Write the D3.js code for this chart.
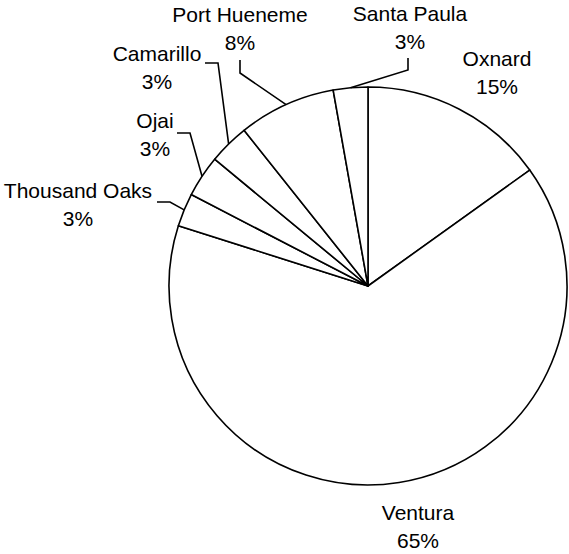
<!DOCTYPE html>
<html>
<head>
<meta charset="utf-8">
<script src="https://cdn.jsdelivr.net/npm/d3@7"></script>
<style>
  html, body { margin: 0; padding: 0; background: #fff; }
  svg { display: block; }
  text { font-family: "Liberation Sans", Arial, sans-serif; font-size: 21px; fill: #000; }
</style>
</head>
<body>
<script>
// ---- data ----
const categories = ["Oxnard", "Ventura", "Thousand Oaks", "Ojai", "Camarillo", "Port Hueneme", "Santa Paula"];
const values = [15.1, 64.8, 2.7, 3.4, 3.3, 7.9, 2.8];
const percentLabels = ["15%", "65%", "3%", "3%", "3%", "8%", "3%"];

// ---- layout (label positions and leader-line knees) ----
const W = 569, H = 554;
const cx = 368, cy = 286, R = 199;
const labelLayout = [
  { x: 497, y: 66, leader: null },
  { x: 418, y: 520, leader: null },
  { x: 78, y: 198, leader: [[157, 202], [170, 202]] },
  { x: 155, y: 128, leader: [[177, 133], [190, 133]] },
  { x: 157, y: 61, leader: [[205, 63], [218, 63]] },
  { x: 240, y: 22, leader: [[240, 60], [240, 73]] },
  { x: 410, y: 21, leader: [[408, 58], [408, 70]] }
];
const lineGap = 27.5;

const svg = d3.select("body").append("svg").attr("width", W).attr("height", H);
const g = svg.append("g").attr("transform", `translate(${cx},${cy})`);

const data = categories.map((c, i) => ({ name: c, value: values[i], pct: percentLabels[i], layout: labelLayout[i] }));
const pie = d3.pie().value(d => d.value).sort(null).startAngle(0).endAngle(2 * Math.PI);
const arcs = pie(data);
const arc = d3.arc().innerRadius(0).outerRadius(R);

g.selectAll("path.slice").data(arcs).enter().append("path")
  .attr("class", "slice")
  .attr("d", arc)
  .attr("fill", "#fff")
  .attr("stroke", "#000")
  .attr("stroke-width", 1.6)
  .attr("stroke-linejoin", "round");

// leader lines
const line = d3.line();
arcs.forEach(a => {
  const L = a.data.layout;
  if (!L.leader) return;
  const mid = (a.startAngle + a.endAngle) / 2;
  const px = cx + R * Math.sin(mid), py = cy - R * Math.cos(mid);
  const pts = L.leader.concat([[px, py]]);
  svg.append("path").attr("d", line(pts)).attr("fill", "none")
    .attr("stroke", "#000").attr("stroke-width", 1.6);
});

// labels
arcs.forEach(a => {
  const L = a.data.layout;
  const t = svg.append("text").attr("text-anchor", "middle");
  t.append("tspan").attr("x", L.x).attr("y", L.y).text(a.data.name);
  t.append("tspan").attr("x", L.x).attr("y", L.y + lineGap).text(a.data.pct);
});
</script>
</body>
</html>
